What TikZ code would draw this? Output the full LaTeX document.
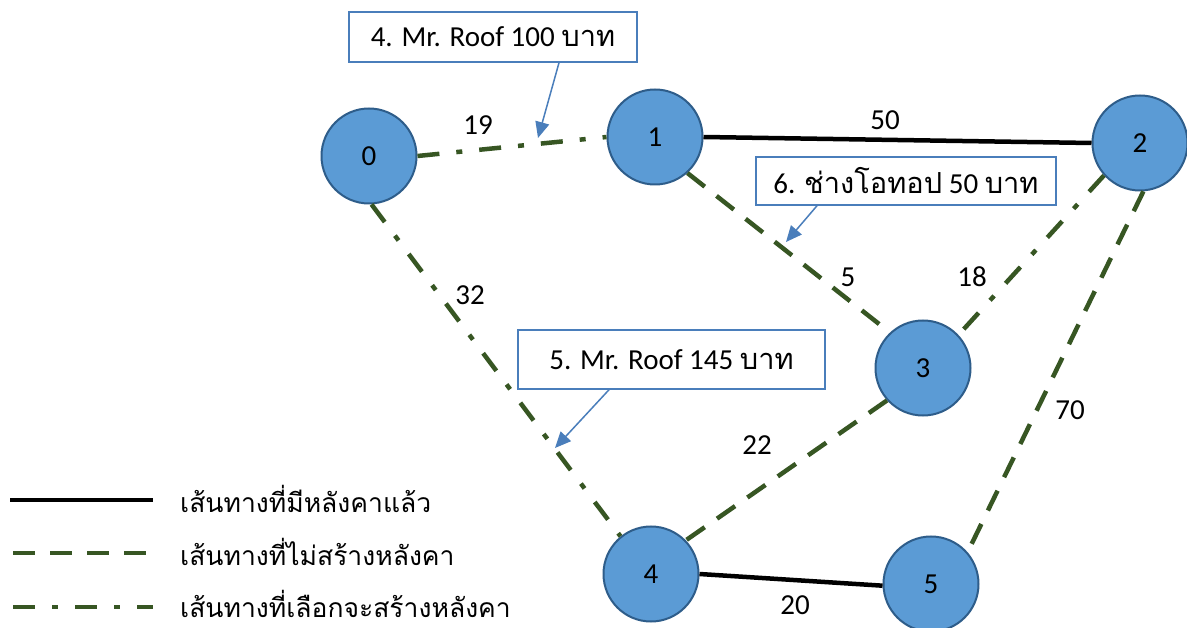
\documentclass[tikz,border=0pt]{standalone}
\usepackage{fontspec}
\setmainfont{Carlito}
\newfontfamily\thai[Script=Thai]{Loma}
\usetikzlibrary{arrows.meta}
\definecolor{nodefill}{HTML}{5B9BD5}
\definecolor{nodeline}{HTML}{2E5D8A}
\definecolor{edgegreen}{HTML}{375623}
\definecolor{callblue}{HTML}{4A7EBB}
\tikzset{
  vertex/.style={circle, draw=nodeline, line width=2pt, fill=nodefill, minimum size=95pt, inner sep=0pt, font=\fontsize{29}{31}\selectfont},
  roofed/.style={draw=black, line width=4.5pt},
  noroof/.style={draw=edgegreen, line width=4.5pt, dash pattern=on 22pt off 15pt},
  chosen/.style={draw=edgegreen, line width=4.5pt, dash pattern=on 22pt off 17pt on 6pt off 17pt},
  wlabel/.style={font=\fontsize{29}{31}\selectfont, inner sep=0pt},
  callout/.style={draw=callblue, line width=1.5pt, fill=white, inner sep=0pt, font=\fontsize{29}{31}\selectfont},
  pointer/.style={draw=callblue, line width=1.5pt, -{Triangle[length=16pt,width=14pt]}},
  legtext/.style={anchor=west, inner sep=0pt, font=\thai\fontsize{26.5}{28}\selectfont}
}
\begin{document}
\begin{tikzpicture}[x=1pt,y=-1pt]
\useasboundingbox (0,0) rectangle (1187,628);
\fill[white] (0,0) rectangle (1187,628);
% vertices
\node[vertex] (n0) at (369,156) {0};
\node[vertex] (n1) at (655,137) {1};
\node[vertex] (n2) at (1140,143) {2};
\node[vertex] (n3) at (923,368) {3};
\node[vertex] (n4) at (651,574) {4};
\node[vertex] (n5) at (931,584) {5};
% edges
\draw[roofed] (n1.0) -- (n2.180);
\draw[roofed] (n4.0) -- (n5.182);
\draw[chosen] (n0.0) -- (n1.180);
\draw[noroof] (n1.-48) -- (n3.133);
\draw[chosen] (n2.222) -- (n3.43);
\draw[chosen] (n0.-87) -- (n4.129);
\draw[noroof] (n3.222) -- (n4.44);
\draw[noroof] (n2.-86) -- (n5.41);
% weights
\node[wlabel] (w01) at (478,125) {19};
\node[wlabel] (w12) at (885,120) {50};
\node[wlabel] (w13) at (848,277) {5};
\node[wlabel] (w23) at (972,277) {18};
\node[wlabel] (w04) at (470,295) {32};
\node[wlabel] (w34) at (757,445) {22};
\node[wlabel] (w25) at (1070,410) {70};
\node[wlabel] (w45) at (795,605) {20};
% callouts
\node[callout, minimum width=288pt, minimum height=50pt] (b1) at (493,37) {4. Mr. Roof 100 {\thai บาท}};
\node[callout, minimum width=300pt, minimum height=48pt] (b2) at (906,181) {6. {\thai ช่างโอทอป} 50 {\thai บาท}};
\node[callout, minimum width=307pt, minimum height=59pt] (b3) at (671.5,359.5) {5. Mr. Roof 145 {\thai บาท}};
\coordinate (p1) at (538,138);
\coordinate (p2) at (786,242);
\coordinate (p3) at (555,448);
\draw[pointer] (559,0 |- b1.south) -- (p1);
\draw[pointer] (817,0 |- b2.south) -- (p2);
\draw[pointer] (609,0 |- b3.south) -- (p3);
% legend
\coordinate (l1a) at (10,500); \coordinate (l1b) at (153,500);
\coordinate (l2a) at (13,553); \coordinate (l2b) at (153,553);
\coordinate (l3a) at (13,607); \coordinate (l3b) at (153,607);
\draw[roofed] (l1a) -- (l1b);
\draw[noroof] (l2a) -- (l2b);
\draw[chosen] (l3a) -- (l3b);
\node[legtext] (t1) at (180,499) {เส้นทางที่มีหลังคาแล้ว};
\node[legtext] (t2) at (180,552) {เส้นทางที่ไม่สร้างหลังคา};
\node[legtext] (t3) at (180,604) {เส้นทางที่เลือกจะสร้างหลังคา};
\end{tikzpicture}
\end{document}
